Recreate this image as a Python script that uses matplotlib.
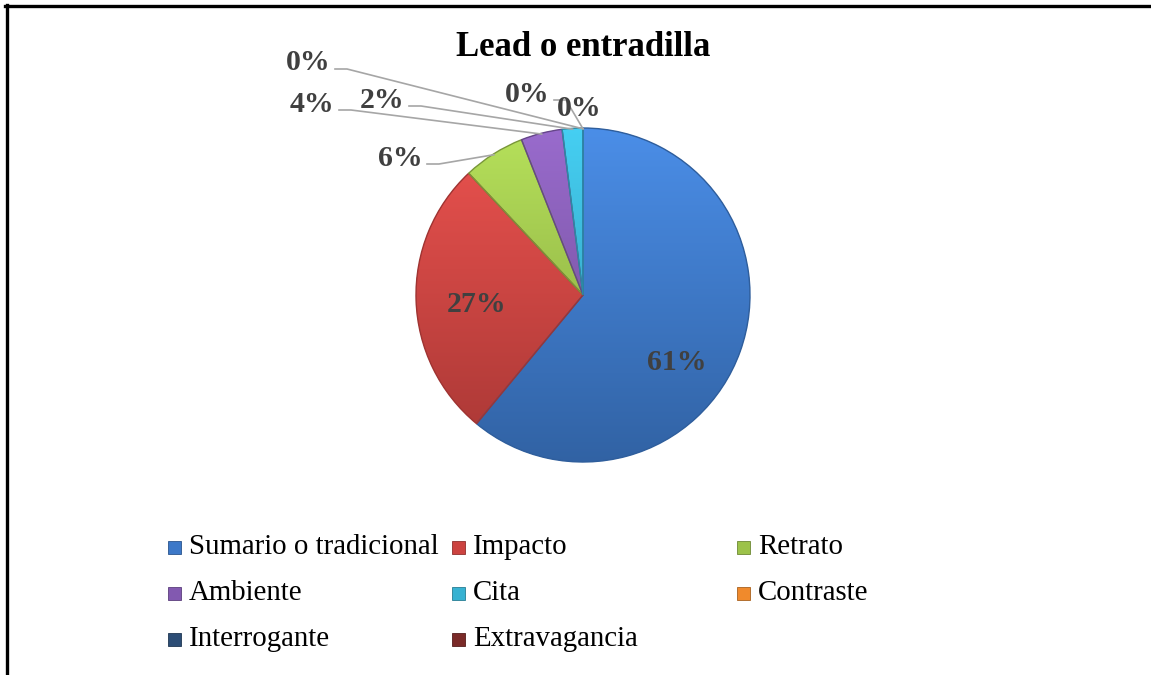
import numpy as np
import matplotlib
matplotlib.use('Agg')
import matplotlib.pyplot as plt
from matplotlib.patches import Rectangle, PathPatch
from matplotlib.lines import Line2D
from matplotlib.colors import to_rgb

# data
categories = ['Sumario o tradicional', 'Impacto', 'Retrato', 'Ambiente',
              'Cita', 'Contraste', 'Interrogante', 'Extravagancia']
values = [61, 27, 6, 4, 2, 0, 0, 0]
pct_labels = ['61%', '27%', '6%', '4%', '2%', '0%', '0%', '0%']
title = 'Lead o entradilla'

# Office-like palette
COLORS = ['#3C78C8', '#CC4340', '#9CC24A', '#8259B0', '#37B2D2',
          '#F08A2C', '#2C4D75', '#7A2A28']

W, H = 1151, 675
CX, CY, R = 583, 295, 167     # pie centre and radius in pixels

# label placement (pixels, text centre)
LABEL_POS = [(677, 362), (477, 305), (400, 158), (312, 104),
             (382, 100), (308, 63), (527, 94), (579, 108)]
LEADER = [False, False, True, True, True, True, True, False]

plt.rcParams['font.family'] = ['Liberation Serif', 'DejaVu Serif']

fig = plt.figure(figsize=(W / 100, H / 100), dpi=100)
fig.patch.set_facecolor('white')


def fx(px):
    return px / W


def fy(py):
    return 1 - py / H


def to_data(px, py):
    return (px - CX) / R, (CY - py) / R


ax = fig.add_axes([fx(CX - R), fy(CY + R), 2 * R / W, 2 * R / H])
ax.axis('off')

wedges, _ = ax.pie(values, colors=COLORS, startangle=90, counterclock=False,
                   radius=1, wedgeprops=dict(edgecolor='none', linewidth=0))

# shaded fill (lighter on top, darker at the bottom) clipped to each wedge
yy = np.linspace(1, 0, 256)[:, None] * np.ones((1, 256))
for w, c in zip(wedges, COLORS):
    if w.theta2 - w.theta1 <= 0:
        continue
    base = np.array(to_rgb(c))
    light = np.clip(base * 1.12 + 0.03, 0, 1)
    dark = base * 0.82
    img = dark[None, None, :] * (1 - yy[..., None]) + light[None, None, :] * yy[..., None]
    im = ax.imshow(img, extent=[-1, 1, -1, 1], origin='upper', zorder=w.get_zorder() + 0.1,
                   interpolation='bilinear', aspect='auto')
    im.set_clip_path(w)
    edge = PathPatch(w.get_path(), transform=w.get_transform(), fill=False,
                     edgecolor=tuple(base * 0.78), linewidth=1.0,
                     zorder=w.get_zorder() + 0.2, clip_on=False)
    ax.add_patch(edge)
ax.set_xlim(-1, 1)
ax.set_ylim(-1, 1)
ax.set_aspect('auto')

# data labels
for w, lab, pos, lead in zip(wedges, pct_labels, LABEL_POS, LEADER):
    tx, ty = to_data(*pos)
    ax.text(tx, ty, lab, ha='center', va='center', fontsize=21.5, fontweight='bold',
            color='#404040', clip_on=False, zorder=10)
    if lead:
        mid = np.deg2rad((w.theta1 + w.theta2) / 2)
        ex, ey = np.cos(mid) * 0.995, np.sin(mid) * 0.995
        sx, sy = to_data(pos[0] + 27, pos[1] + 6)
        kx, ky = to_data(pos[0] + 39, pos[1] + 6)
        ax.plot([sx, kx, ex], [sy, ky, ey], color='#a6a6a6', linewidth=1.2,
                clip_on=False, zorder=9)

fig.text(fx(583), fy(47), title, ha='center', va='center', fontsize=25,
         fontweight='bold', color='black')

# legend, 3 columns, row-major
LEG_COL_X = [168, 452, 737]
LEG_ROW_Y = [547, 593, 639]
SQ = 13
for i, (name, c) in enumerate(zip(categories, COLORS)):
    row, col = divmod(i, 3)
    x0, y0 = LEG_COL_X[col], LEG_ROW_Y[row]
    fig.patches.append(Rectangle((fx(x0), fy(y0 + SQ / 2)), SQ / W, SQ / H,
                                 transform=fig.transFigure, facecolor=c,
                                 edgecolor=tuple(np.array(to_rgb(c)) * 0.7), linewidth=0.6))
    fig.text(fx(x0 + SQ + 8), fy(y0), name, ha='left', va='center',
             fontsize=20.8, color='black')

# outer frame (only top and left visible in the crop)
fig.lines.append(Line2D([fx(6.5), fx(6.5)], [fy(5), fy(H + 5)], transform=fig.transFigure,
                        color='black', linewidth=2.4))
fig.lines.append(Line2D([fx(5), fx(W + 5)], [fy(5.5), fy(5.5)], transform=fig.transFigure,
                        color='black', linewidth=2.4))

plt.savefig('out.png', dpi=100, facecolor='white')
plt.close()
